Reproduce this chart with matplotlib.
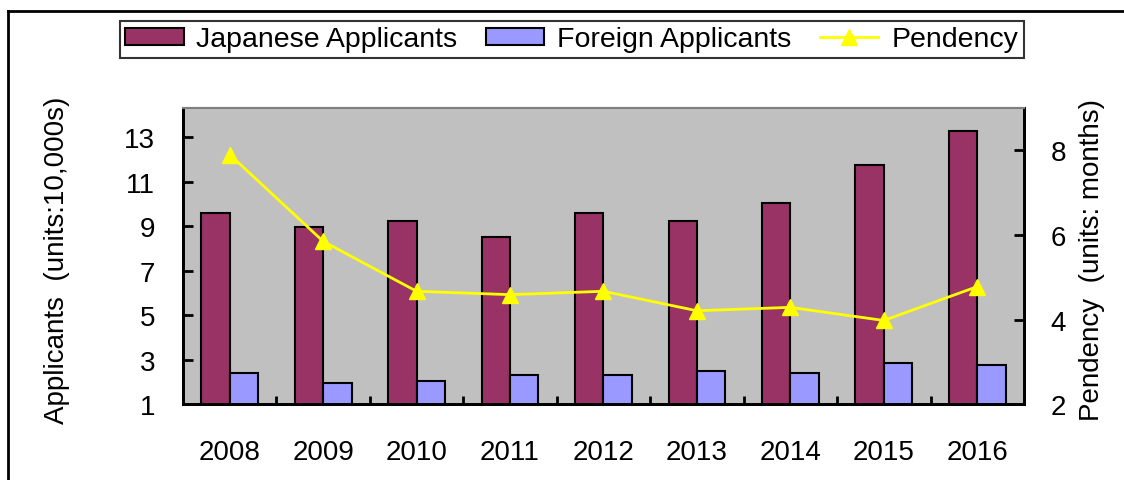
import matplotlib
matplotlib.use("Agg")
import matplotlib.pyplot as plt
from matplotlib.lines import Line2D
import numpy as np

plt.rcParams['font.family'] = ['Liberation Sans', 'DejaVu Sans']

years = ["2008", "2009", "2010", "2011", "2012", "2013", "2014", "2015", "2016"]
japanese = [9.59, 8.96, 9.23, 8.53, 9.58, 9.23, 10.04, 11.74, 13.27]
foreign = [2.40, 1.96, 2.04, 2.31, 2.31, 2.49, 2.40, 2.85, 2.76]
pendency = [7.90, 5.85, 4.67, 4.59, 4.67, 4.21, 4.29, 3.98, 4.78]

left_ticks = [1, 3, 5, 7, 9, 11, 13]
right_ticks = [2, 4, 6, 8]

fig = plt.figure(figsize=(11.24, 4.81), dpi=100)
ax = fig.add_axes([0.1628, 0.1574, 0.7482, 0.6160])
ax.set_facecolor("#C0C0C0")

x = np.arange(len(years))
w = 0.304
ax.bar(x - w / 2, japanese, w, bottom=0, color="#993366", edgecolor="black",
       linewidth=1.5, label="Japanese Applicants", zorder=2)
ax.bar(x + w / 2, foreign, w, bottom=0, color="#9999FF", edgecolor="black",
       linewidth=1.5, label="Foreign Applicants", zorder=2)
ax.set_xlim(-0.5, len(years) - 0.5)
ax.set_ylim(1, 14.3)
ax.set_yticks(left_ticks)
ax.set_xticks(x)
ax.set_xticklabels(years)
ax.set_xticks(np.arange(len(years)) + 0.5, minor=True)
ax.tick_params(axis="x", which="major", length=0, labelsize=20, pad=25)
ax.tick_params(axis="x", which="minor", direction="in", length=6, width=2)
ax.tick_params(axis="y", direction="in", length=7, width=2, labelsize=20, pad=20)
ax.set_ylabel("Applicants  (units:10,000s)", fontsize=20)
ax.yaxis.set_label_coords(-0.134, 0.49)

ax2 = ax.twinx()
ax2.plot(x, pendency, color="#FFFF00", marker="^", markersize=11,
         linewidth=2, label="Pendency", zorder=3)
ax2.set_ylim(2, 9)
ax2.set_yticks(right_ticks)
ax2.tick_params(axis="y", direction="in", length=7, width=2, labelsize=20, pad=19)
ax2.set_ylabel("Pendency  (units: months)", fontsize=20)
ax2.yaxis.set_label_coords(1.066, 0.49)

for a in (ax, ax2):
    for s in ("left", "right", "bottom"):
        a.spines[s].set_linewidth(2)
        a.spines[s].set_color("black")
    a.spines["top"].set_color("#808080")
    a.spines["top"].set_linewidth(1.5)

h1, l1 = ax.get_legend_handles_labels()
h2, l2 = ax2.get_legend_handles_labels()
leg = fig.legend(h1 + h2, l1 + l2, loc="center", bbox_to_anchor=(0.5086, 0.916),
                 ncol=3, fontsize=20.5, frameon=True, fancybox=False,
                 edgecolor="black", handlelength=2.05, handleheight=0.55,
                 handletextpad=0.45, columnspacing=1.0, borderpad=0.2,
                 borderaxespad=0)
leg.get_frame().set_linewidth(1.5)

fig.add_artist(Line2D([0.0071, 0.0071], [0, 0.975], color="black", linewidth=2,
                      transform=fig.transFigure))
fig.add_artist(Line2D([0.0071, 1], [0.975, 0.975], color="black", linewidth=2,
                      transform=fig.transFigure))

fig.savefig("out.png", dpi=100)
